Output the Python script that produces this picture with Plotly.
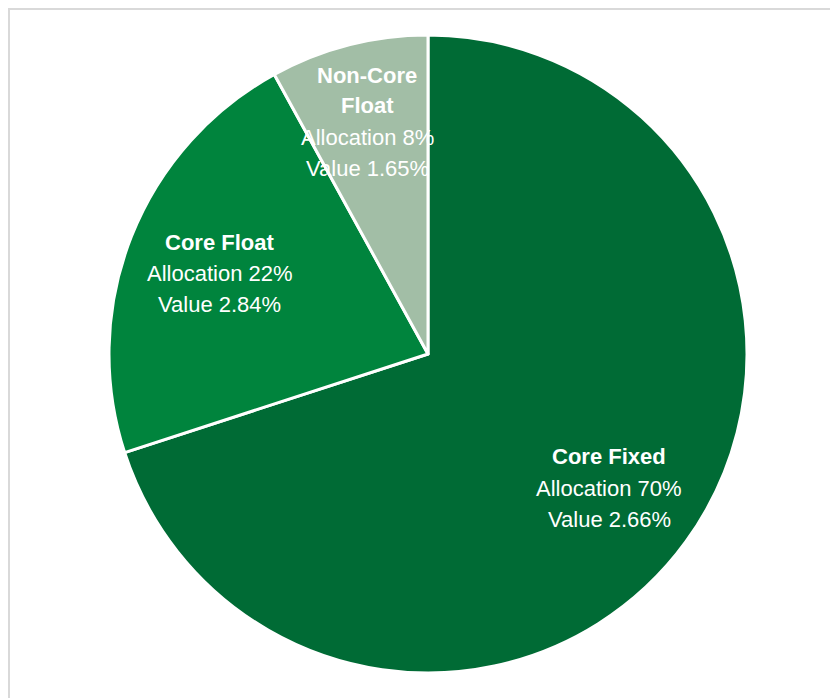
import plotly.graph_objects as go

# Data
categories = ["Core Fixed", "Core Float", "Non-Core Float"]
allocation = [70, 22, 8]
value_pct = [2.66, 2.84, 1.65]
colors = ["#006B35", "#00843D", "#A2BEA6"]

W, H = 838, 698
OFF = 8  # page body margin offset

def px(x):
    return (x - OFF) / W

def py(y):
    return 1 - (y - OFF) / H

fig = go.Figure(go.Pie(
    labels=categories,
    values=allocation,
    sort=False,
    direction="clockwise",
    rotation=0,
    textinfo="none",
    hoverinfo="label+percent",
    marker=dict(colors=colors, line=dict(color="white", width=3)),
    domain=dict(x=[px(109), px(747)], y=[py(673), py(35)]),
    showlegend=False,
))

# Label placement: (category index, x centre, line y centres, split title)
label_layout = [
    (0, 609, [456, 489, 519], False),
    (1, 220, [242, 273, 304], False),
    (2, 367, [75, 106, 138, 168], True),
]

annotations = []
for idx, cx, ys, split in label_layout:
    name = categories[idx]
    title_lines = name.replace("Non-Core ", "Non-Core\n").split("\n") if split else [name]
    lines = [(t, True) for t in title_lines]
    lines.append((f"Allocation {allocation[idx]}%", False))
    lines.append((f"Value {value_pct[idx]:.2f}%", False))
    for (t, bold), y in zip(lines, ys):
        annotations.append(dict(
            x=px(cx), y=py(y), xref="paper", yref="paper",
            text=f"<b>{t}</b>" if bold else t,
            showarrow=False, xanchor="center", yanchor="middle",
            font=dict(family="Liberation Sans, Arial, sans-serif", size=22, color="white"),
        ))

shapes = [
    dict(type="line", xref="paper", yref="paper", x0=0.0, x1=1.0, y0=1 - 1 / H, y1=1 - 1 / H,
         line=dict(color="#D9D9D9", width=2)),
    dict(type="line", xref="paper", yref="paper", x0=1 / W, x1=1 / W, y0=1.0, y1=0.0,
         line=dict(color="#D9D9D9", width=2)),
]

fig.update_layout(
    width=W, height=H,
    margin=dict(l=0, r=0, t=0, b=0),
    paper_bgcolor="white",
    plot_bgcolor="white",
    annotations=annotations,
    shapes=shapes,
)

fig.write_html("out.html")
